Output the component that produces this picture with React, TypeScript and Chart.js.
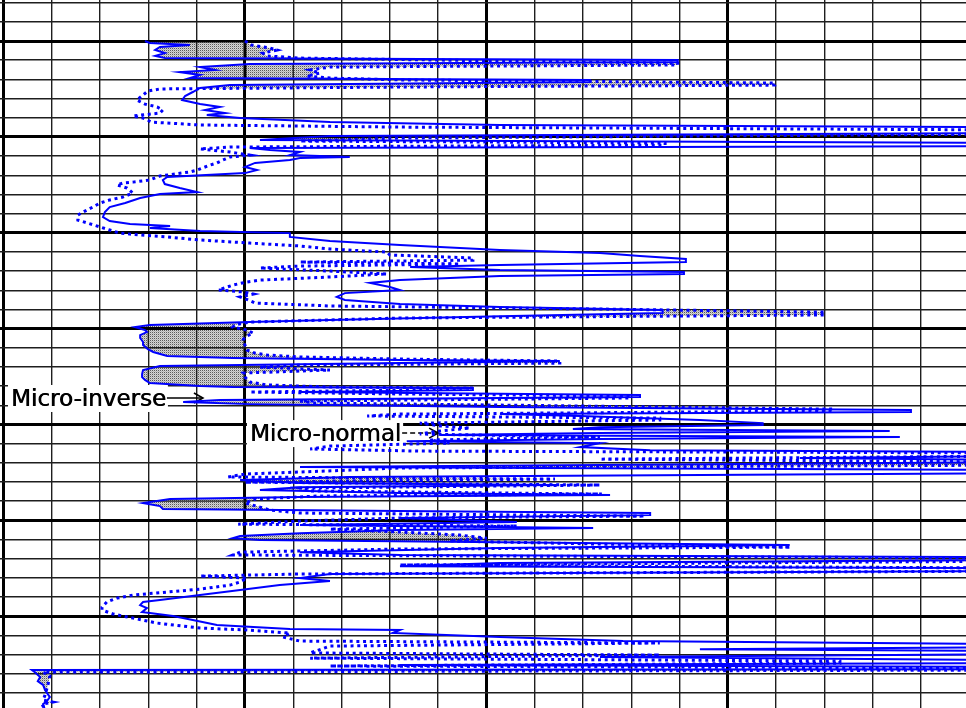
import React, { useEffect, useRef } from 'react';
import { Chart, registerables } from 'chart.js';

Chart.register(...registerables);

// Depth in chart divisions (0 = first heavy depth line), resistivity in ohm-m (1 per division)
const inverseDepth = [
  0.0, 0.1, 0.21, 0.31, 0.47, 0.63, 0.78, 0.89, 0.99, 1.1, 1.2, 1.36, 1.51, 1.62, 1.77, 1.93, 2.03, 2.14, 2.3, 2.45,
  2.66, 2.87, 3.08, 3.29, 3.44, 3.6, 3.76, 3.86, 4.02, 4.23, 4.38, 4.49, 4.8, 4.96, 5.16, 5.32, 5.48, 5.58, 5.69, 5.79,
  5.95, 6.05, 6.1, 6.21, 6.36, 6.57, 6.73, 6.89, 7.09, 7.25, 7.46, 7.67, 7.88, 7.98, 8.19, 8.45, 8.66, 8.92, 9.18, 9.39,
  9.55, 9.65, 9.75, 9.91, 10.02, 10.22, 10.43, 10.64, 10.9, 11.06, 11.22, 11.37, 11.53, 11.68, 11.79, 11.95, 12.05, 12.15, 12.26, 12.47,
  12.62, 12.83, 12.99, 13.15, 13.35, 13.51, 13.72, 13.88, 14.03, 14.19, 14.35, 14.55, 14.66, 14.81, 14.92, 15.08, 15.18, 15.34, 15.49, 15.7,
  15.86, 16.07, 16.22, 16.43, 16.54, 16.64, 16.69, 16.8, 16.95, 17.16, 17.37, 17.53, 17.68, 17.84, 18.0, 18.05, 18.1, 18.21, 18.31, 18.47,
  18.57, 18.73, 18.83, 18.94, 19.09, 19.25, 19.35, 19.46, 19.56, 19.77, 19.93, 20.03, 20.14, 20.24, 20.34, 20.45, 20.55, 20.66, 20.76, 20.87,
  20.97, 21.18, 21.34, 21.44, 21.65, 21.75, 21.86, 21.96, 22.12, 22.22, 22.38, 22.54, 22.74, 22.9, 23.06, 23.16, 23.27, 23.42, 23.58, 23.68,
  23.79, 23.89, 24.1, 24.26, 24.41, 24.52, 24.62, 24.73, 24.88, 25.09, 25.25, 25.4, 25.51, 25.67, 25.82, 25.93, 26.03, 26.14, 26.29, 26.45,
  26.66, 26.81, 26.92, 27.07, 27.23, 27.39, 27.49, 27.65, 27.8, 28.01, 28.17, 28.38, 28.64, 28.9, 29.16, 29.26, 29.42, 29.58, 29.79, 29.84,
  29.99, 30.2, 30.46, 30.67, 30.72, 30.88, 31.09, 31.3, 31.46, 31.61, 31.72, 31.82, 31.98, 32.13, 32.29, 32.45, 32.55, 32.65, 32.76, 32.81,
  32.92, 33.18, 33.39, 33.59, 33.85, 34.22, 34.43, 34.59, 34.9,
];
const inverseValue = [
  2.93, 3.03, 3.86, 3.24, 3.14, 3.34, 3.14, 3.34, 13.96, 13.96, 5.1, 4.07, 4.38, 3.65, 4.07, 3.86, 12.14, 12.14, 4.69, 4.07,
  3.92, 3.76, 3.7, 4.07, 4.48, 4.17, 4.59, 4.21, 4.9, 6.76, 10.28, 21, 21, 6.76, 5.31, 21, 21, 5.1, 5.52, 6.14,
  5.93, 7.17, 6.14, 5.93, 5.21, 5.0, 5.25, 5.0, 3.39, 3.3, 3.34, 3.65, 4.01, 3.24, 2.83, 2.52, 2.2, 2.1, 2.06, 2.2,
  2.62, 3.45, 3.03, 4.07, 5.93, 5.93, 6.76, 8.21, 10.28, 12.35, 13.18, 14.13, 14.13, 10.28, 8.42, 10.28, 14.09, 14.09, 10.28, 8.21,
  7.59, 8.0, 8.21, 7.07, 6.9, 7.07, 8.21, 10.28, 13.65, 13.65, 10.28, 6.76, 5.1, 3.03, 2.72, 2.93, 2.97, 2.83, 2.83, 2.89,
  2.89, 2.99, 3.1, 3.39, 4.75, 8.21, 11.52, 8.21, 3.24, 2.89, 2.87, 2.87, 2.93, 3.03, 4.07, 4.75, 9.72, 9.72, 6.14, 13.18,
  13.18, 4.48, 3.72, 5.1, 10.28, 18.79, 18.79, 10.28, 11.94, 14.42, 15.72, 15.72, 12.35, 11.79, 18.35, 12.35, 9.04, 18.56, 12.35, 8.35,
  12.35, 11.94, 13.39, 21, 21, 16.49, 21, 21, 12.35, 6.14, 21, 21, 7.17, 4.9, 6.14, 11.42, 6.14, 5.31, 8.21, 12.56,
  6.14, 3.45, 2.89, 3.24, 3.3, 8.21, 13.39, 13.39, 8.21, 10.63, 6.14, 12.21, 8.21, 6.14, 4.9, 4.75, 5.31, 10.28, 16.28, 10.28,
  6.14, 8.21, 21, 21, 10.28, 8.21, 21, 21, 6.76, 6.14, 6.76, 5.72, 4.9, 4.07, 3.24, 2.89, 2.83, 2.97, 2.87, 3.03,
  3.51, 3.92, 4.42, 5.93, 8.21, 8.06, 10.28, 12.83, 21, 21, 14.42, 21, 21, 12.35, 21, 21, 8.21, 21, 21, 0.59,
  0.65, 0.76, 0.71, 0.82, 0.86, 0.96, 0.9, 0.82, 0.86,
];

const normalDepth = [
  0.0, 0.21, 0.37, 0.47, 0.63, 0.78, 0.89, 1.04, 1.15, 1.25, 1.36, 1.51, 1.67, 1.83, 1.93, 2.03, 2.19, 2.3, 2.4, 2.5,
  2.61, 2.82, 3.08, 3.29, 3.44, 3.6, 3.76, 3.91, 4.02, 4.23, 4.38, 4.49, 4.64, 4.85, 5.06, 5.22, 5.32, 5.43, 5.53, 5.63,
  5.79, 5.95, 6.05, 6.21, 6.36, 6.47, 6.73, 6.83, 7.04, 7.25, 7.36, 7.41, 7.51, 7.67, 7.93, 8.14, 8.29, 8.45, 8.66, 8.92,
  9.08, 9.34, 9.49, 9.7, 9.86, 10.02, 10.12, 10.22, 10.38, 10.54, 10.69, 10.85, 11.01, 11.16, 11.32, 11.43, 11.53, 11.63, 11.74, 11.84,
  12.0, 12.15, 12.31, 12.47, 12.57, 12.73, 12.99, 13.09, 13.2, 13.35, 13.51, 13.67, 13.82, 13.98, 14.14, 14.29, 14.45, 14.66, 14.81, 14.92,
  15.08, 15.23, 15.44, 15.6, 15.86, 16.12, 16.28, 16.38, 16.48, 16.59, 16.69, 16.8, 16.9, 17.01, 17.16, 17.32, 17.53, 17.79, 17.94, 18.05,
  18.1, 18.21, 18.31, 18.41, 18.52, 18.62, 18.78, 18.88, 18.99, 19.2, 19.3, 19.46, 19.56, 19.67, 19.77, 19.93, 20.08, 20.19, 20.34, 20.5,
  20.66, 20.81, 20.97, 21.13, 21.28, 21.39, 21.49, 21.65, 21.81, 21.96, 22.12, 22.27, 22.38, 22.59, 22.74, 22.85, 23.01, 23.16, 23.32, 23.47,
  23.63, 23.73, 23.89, 24.1, 24.31, 24.47, 24.62, 24.78, 24.88, 25.04, 25.2, 25.3, 25.46, 25.61, 25.77, 25.93, 26.08, 26.24, 26.4, 26.5,
  26.66, 26.81, 26.97, 27.13, 27.33, 27.49, 27.65, 27.8, 27.91, 28.01, 28.22, 28.38, 28.59, 28.9, 29.06, 29.26, 29.53, 29.68, 29.89, 30.1,
  30.36, 30.62, 30.72, 30.88, 31.09, 31.3, 31.4, 31.56, 31.92, 32.03, 32.19, 32.34, 32.45, 32.6, 32.71, 32.81, 32.92, 33.12, 33.59, 34.12,
  34.38, 34.48, 34.59, 34.9,
];
const normalValue = [
  5.0, 5.14, 5.52, 5.66, 5.37, 5.46, 6.14, 10.28, 13.96, 13.96, 6.76, 6.35, 6.55, 6.28, 6.76, 8.21, 15.97, 15.97, 8.21, 3.24,
  2.99, 2.89, 2.76, 2.93, 3.18, 3.3, 3.24, 2.68, 2.89, 3.07, 4.07, 8.21, 21, 21, 8.21, 6.14, 13.7, 13.7, 4.69, 4.07,
  4.69, 5.1, 4.69, 4.54, 4.42, 4.28, 4.01, 3.86, 3.24, 3.03, 2.68, 2.47, 2.35, 2.56, 2.68, 2.47, 2.2, 2.0, 1.85, 1.65,
  1.54, 1.54, 1.73, 2.0, 2.2, 2.41, 2.83, 3.39, 4.07, 5.1, 6.14, 6.76, 7.94, 8.0, 9.72, 9.72, 6.14, 9.45, 6.14, 5.31,
  6.76, 7.94, 6.76, 5.31, 5.04, 4.75, 4.45, 4.96, 5.17, 4.9, 5.07, 5.21, 6.76, 12.35, 16.99, 16.99, 8.21, 5.1, 4.79, 4.75,
  5.04, 5.17, 5.0, 4.96, 5.0, 5.04, 5.21, 5.46, 6.14, 8.21, 11.52, 11.52, 6.14, 5.31, 6.76, 4.96, 5.0, 5.1, 5.46, 6.76,
  9.72, 8.21, 5.1, 8.21, 12.97, 12.97, 6.14, 6.45, 10.28, 17.17, 17.17, 8.21, 7.53, 13.59, 13.59, 8.62, 9.04, 9.66, 9.04, 8.62,
  12.35, 8.83, 9.24, 6.76, 6.35, 8.62, 21, 21, 12.35, 21, 21, 8.21, 7.17, 5.0, 4.65, 11.42, 5.0, 12.35, 6.14, 6.35,
  12.39, 6.55, 5.21, 5.0, 5.31, 5.52, 6.14, 13.28, 8.21, 6.14, 4.86, 10.63, 6.76, 8.21, 9.45, 10.01, 9.24, 12.35, 16.3, 8.21,
  4.9, 4.75, 21, 21, 8.21, 21, 21, 6.14, 4.07, 5.04, 4.9, 4.69, 4.07, 2.68, 2.35, 2.14, 2.04, 2.04, 2.27, 2.68,
  3.18, 4.07, 5.04, 5.93, 5.79, 6.14, 13.59, 6.76, 6.35, 13.59, 6.35, 17.32, 17.32, 6.76, 21, 21, 0.82, 0.96, 0.92, 0.86,
  0.82, 1.02, 0.8, 0.86,
];

// Curve annotations: label text and the point (value, depth) its arrow touches
const labelTexts = ['Micro-inverse', 'Micro-normal'];
const labelTipValues = [4.13, 9.0];
const labelTipDepths = [18.62, 20.45];
const labelArrowDashed = [false, true];

const xMin = -0.072;
const xMax = 19.93;
const yMin = -2.139;
const yMax = 34.79;

function range(a: number, b: number) {
  const out: number[] = [];
  for (let v = a; v <= b; v++) out.push(v);
  return out;
}

const isMajor = (v: number) => v % 5 === 0;
const gridColor = (c: any) => (c.tick && isMajor(c.tick.value) ? '#000000' : '#1e1e1e');
const gridWidth = (c: any) => (c.tick && isMajor(c.tick.value) ? 3 : 1.4);

let stipple: CanvasPattern | null = null;
function getStipple(ctx: CanvasRenderingContext2D) {
  if (stipple) return stipple;
  const c = document.createElement('canvas');
  c.width = 2;
  c.height = 2;
  const g = c.getContext('2d')!;
  g.fillStyle = '#d4d4d4';
  g.fillRect(0, 0, 2, 2);
  g.fillStyle = '#5a5a5a';
  g.fillRect(0, 0, 1, 1);
  g.fillStyle = '#b4b4b4';
  g.fillRect(1, 1, 1, 1);
  stipple = ctx.createPattern(c, 'repeat');
  return stipple;
}

const separationPlugin = {
  id: 'separation',
  beforeDatasetsDraw(chart: any) {
    const { ctx, chartArea } = chart;
    const xs = chart.scales.x;
    const ys = chart.scales.y;
    const inv = chart.getDatasetMeta(0).data;
    const nor = chart.getDatasetMeta(1).data;
    if (!inv.length || !nor.length) return;
    const far = 5000;
    ctx.save();
    ctx.beginPath();
    ctx.rect(chartArea.left, chartArea.top, chartArea.right - chartArea.left, chartArea.bottom - chartArea.top);
    ctx.clip();
    // region to the right of the micro-inverse curve
    ctx.beginPath();
    inv.forEach((p: any, i: number) => (i ? ctx.lineTo(p.x, p.y) : ctx.moveTo(p.x, p.y)));
    ctx.lineTo(far, inv[inv.length - 1].y);
    ctx.lineTo(far, inv[0].y);
    ctx.closePath();
    ctx.clip();
    // region to the left of the micro-normal curve
    ctx.beginPath();
    nor.forEach((p: any, i: number) => (i ? ctx.lineTo(p.x, p.y) : ctx.moveTo(p.x, p.y)));
    ctx.lineTo(-far, nor[nor.length - 1].y);
    ctx.lineTo(-far, nor[0].y);
    ctx.closePath();
    ctx.clip();
    ctx.fillStyle = getStipple(ctx) || '#bbb';
    ctx.fillRect(chartArea.left, chartArea.top, chartArea.right - chartArea.left, chartArea.bottom - chartArea.top);
    // grid stays visible through the shading
    xs.ticks.forEach((t: any) => {
      const px = xs.getPixelForValue(t.value);
      ctx.strokeStyle = isMajor(t.value) ? '#000000' : '#1e1e1e';
      ctx.lineWidth = isMajor(t.value) ? 3 : 1.4;
      ctx.beginPath();
      ctx.moveTo(px, chartArea.top);
      ctx.lineTo(px, chartArea.bottom);
      ctx.stroke();
    });
    ys.ticks.forEach((t: any) => {
      const py = ys.getPixelForValue(t.value);
      ctx.strokeStyle = isMajor(t.value) ? '#000000' : '#1e1e1e';
      ctx.lineWidth = isMajor(t.value) ? 3 : 1.4;
      ctx.beginPath();
      ctx.moveTo(chartArea.left, py);
      ctx.lineTo(chartArea.right, py);
      ctx.stroke();
    });
    ctx.restore();

    // curve labels
    ctx.save();
    ctx.font = '23px "DejaVu Sans", Verdana, sans-serif';
    ctx.textBaseline = 'alphabetic';
    labelTexts.forEach((text, i) => {
      const tipX = xs.getPixelForValue(labelTipValues[i]);
      const tipY = ys.getPixelForValue(labelTipDepths[i]);
      const w = ctx.measureText(text).width;
      const right = tipX - 37;
      const left = right - w;
      const base = tipY + 8;
      ctx.fillStyle = '#ffffff';
      ctx.fillRect(left - 3, base - 21, w + 5, 27);
      ctx.fillStyle = '#000000';
      ctx.strokeStyle = '#000000';
      ctx.fillText(text, left, base);
      ctx.fillText(text, left + 0.6, base);
      ctx.lineWidth = 1.6;
      ctx.setLineDash(labelArrowDashed[i] ? [5, 3] : []);
      ctx.beginPath();
      ctx.moveTo(right + 1, tipY);
      ctx.lineTo(tipX, tipY);
      ctx.stroke();
      ctx.setLineDash([]);
      ctx.beginPath();
      ctx.moveTo(tipX - 9, tipY - 5);
      ctx.lineTo(tipX, tipY);
      ctx.lineTo(tipX - 9, tipY + 5);
      ctx.stroke();
    });
    ctx.restore();
  },
};

export default function App() {
  const ref = useRef<HTMLCanvasElement>(null);
  useEffect(() => {
    document.body.style.margin = '0';
    const canvas = ref.current;
    if (!canvas) return;
    const chart = new Chart(canvas, {
      type: 'line',
      data: {
        datasets: [
          {
            label: 'Micro-inverse',
            data: inverseDepth.map((d, i) => ({ x: inverseValue[i], y: d })),
            borderColor: '#0000ff',
            borderWidth: 2,
            pointRadius: 0,
            tension: 0,
            fill: false,
          },
          {
            label: 'Micro-normal',
            data: normalDepth.map((d, i) => ({ x: normalValue[i], y: d })),
            borderColor: '#0000ff',
            borderWidth: 3,
            borderDash: [3, 3.7],
            borderCapStyle: 'butt',
            pointRadius: 0,
            tension: 0,
            fill: false,
          },
        ],
      },
      options: {
        indexAxis: 'y',
        responsive: false,
        devicePixelRatio: 1,
        animation: false,
        layout: { padding: 0 },
        plugins: { legend: { display: false }, tooltip: { enabled: false } },
        scales: {
          x: {
            type: 'linear',
            position: 'top',
            min: xMin,
            max: xMax,
            afterBuildTicks: (s: any) => {
              s.ticks = range(0, 20).map((v) => ({ value: v }));
            },
            ticks: { display: false },
            border: { display: false },
            grid: { drawTicks: false, color: gridColor, lineWidth: gridWidth },
          },
          y: {
            type: 'linear',
            reverse: true,
            min: yMin,
            max: yMax,
            afterBuildTicks: (s: any) => {
              s.ticks = range(-2, 35).map((v) => ({ value: v }));
            },
            ticks: { display: false },
            border: { display: false },
            grid: { drawTicks: false, color: gridColor, lineWidth: gridWidth },
          },
        },
      },
      plugins: [separationPlugin],
    } as any);
    return () => chart.destroy();
  }, []);
  return (
    <div style={{ width: 966, height: 708, overflow: 'hidden', background: '#ffffff' }}>
      <canvas ref={ref} width={966} height={708} style={{ display: 'block' }} />
    </div>
  );
}
